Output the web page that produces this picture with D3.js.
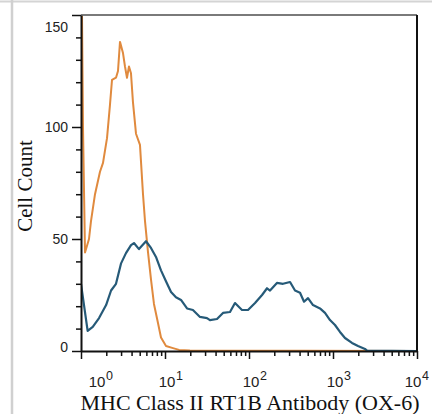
<!DOCTYPE html>
<html>
<head>
<meta charset="utf-8">
<script src="https://cdn.jsdelivr.net/npm/d3@7"></script>
<style>
  html, body { margin: 0; padding: 0; background: #fff; }
  svg { display: block; }
</style>
</head>
<body>
<svg id="chart" width="432" height="414"></svg>
<script>
// ===============================
// DATA
// ===============================

// isotype control (orange)
const isoIntensity = [1, 1.056, 1.116, 1.179, 1.245, 1.315, 1.468, 1.683, 1.828, 2.04, 2.214, 2.339,
    2.61, 2.757, 2.912, 3.162, 3.34, 3.528, 3.726, 3.936, 4.157, 4.517, 5.036, 5.472, 5.78,
    6.28, 6.81, 7.39, 8.25, 8.96, 10.28, 12.45, 14.7, 19.8, 10000];
const isoCount = [200, 100, 44, 47, 50, 58, 70, 80, 84, 95, 110, 121,
    122, 125, 138, 133, 127, 122, 127, 124, 111, 97, 92, 70, 58,
    44, 32, 21, 12.5, 6, 2.2, 1.3, 0.5, 0.2, 0];

// MHC Class II RT1B stained (blue)
const mhcIntensity = [1, 1.2, 1.38, 1.64, 1.99, 2.28, 2.61, 2.99, 3.43, 3.94, 4.27, 4.9, 5.94,
    6.81, 7.81, 8.96, 10.3, 11.8, 13.5, 15.5, 18.3, 21.5, 26.1, 31.6, 34.3, 41.6, 49,
    59.4, 68.1, 82.5, 97.3, 118, 143, 164, 178, 215, 254, 308, 353, 405, 452, 504,
    578, 700, 803, 921, 1056, 1211, 1389, 1683, 1985, 2404, 2540, 10000];
const mhcCount = [30, 9, 10.8, 14.7, 20.5, 27, 30, 39, 43.7, 47.3, 48.2, 45.5, 49,
    46, 42, 36, 31, 26.3, 24, 22.8, 19, 18.3, 15.2, 14.7, 13.8, 14.3, 17,
    17.4, 21.4, 18.3, 18.3, 21.4, 25, 28, 27, 30.4, 30, 30.8, 27, 26, 22, 23.6,
    20.5, 19, 17, 13.8, 11.6, 8.5, 5.8, 3.6, 2.2, 0.9, 0.2, 0];

const yMajorTicks = [0, 50, 100, 150];
const xDecades = [1, 10, 100, 1000, 10000];
const xExponents = ["0", "1", "2", "3", "4"];

// ===============================
// LAYOUT
// ===============================

const plotLeft = 81, plotTop = 15, plotRight = 417, plotBottom = 351;

const svg = d3.select("#chart");

// outer page frame (light grey)
svg.append("line").attr("x1", 0).attr("x2", 432).attr("y1", 1.5).attr("y2", 1.5)
    .attr("stroke", "#d4d4d4").attr("stroke-width", 2);
svg.append("line").attr("x1", 12).attr("x2", 12).attr("y1", 0).attr("y2", 414)
    .attr("stroke", "#d0d0d0").attr("stroke-width", 2.5);

const x = d3.scaleLog().domain([1, 10000]).range([plotLeft, plotRight]);
const y = d3.scaleLinear().domain([0, 150]).range([plotBottom, plotTop]);

// clip for curves
svg.append("clipPath").attr("id", "plotClip")
    .append("rect").attr("x", plotLeft).attr("y", plotTop)
    .attr("width", plotRight - plotLeft).attr("height", plotBottom - plotTop);

// ===============================
// CURVES
// ===============================

const line = d3.line()
    .x(d => x(d[0]))
    .y(d => y(d[1]));

const curves = svg.append("g").attr("clip-path", "url(#plotClip)");

curves.append("path")
    .datum(d3.zip(isoIntensity, isoCount))
    .attr("d", line)
    .attr("fill", "none")
    .attr("stroke", "#e08a3e")
    .attr("stroke-width", 2)
    .attr("stroke-linejoin", "round");

curves.append("path")
    .datum(d3.zip(mhcIntensity, mhcCount))
    .attr("d", line)
    .attr("fill", "none")
    .attr("stroke", "#265a78")
    .attr("stroke-width", 2.2)
    .attr("stroke-linejoin", "round");

// ===============================
// FRAME
// ===============================

svg.append("line").attr("x1", plotLeft).attr("x2", plotRight).attr("y1", plotTop).attr("y2", plotTop)
    .attr("stroke", "#7a7a7a").attr("stroke-width", 2);
svg.append("line").attr("x1", plotRight).attr("x2", plotRight).attr("y1", plotTop).attr("y2", plotBottom)
    .attr("stroke", "#111").attr("stroke-width", 2);

// ===============================
// Y AXIS
// ===============================

const yMinor = d3.range(0, 151, 10).filter(v => v % 50 !== 0);

const yAxis = svg.append("g").attr("transform", `translate(${plotLeft},0)`);

yAxis.call(d3.axisLeft(y).tickValues(yMajorTicks).tickSize(9).tickSizeOuter(0).tickFormat(""));
yAxis.append("g").call(d3.axisLeft(y).tickValues(yMinor).tickSize(5).tickFormat(""))
    .select(".domain").remove();
yAxis.selectAll(".domain").attr("stroke", "#111").attr("stroke-width", 2);
yAxis.selectAll(".tick line").attr("stroke", "#111").attr("stroke-width", 1.5);

const yLabelShift = { 0: -4, 150: 12 };
yMajorTicks.forEach(v => {
    svg.append("text")
        .attr("x", 68)
        .attr("y", y(v) + (yLabelShift[v] || 0))
        .attr("dy", "0.35em")
        .attr("text-anchor", "end")
        .attr("font-family", "Liberation Sans, Arial, sans-serif")
        .attr("font-size", 14)
        .attr("fill", "#222")
        .text(v);
});

// ===============================
// X AXIS
// ===============================

const xMinor = [];
[1, 10, 100, 1000].forEach(d => {
    for (let k = 2; k <= 9; k++) xMinor.push(d * k);
});

const xAxis = svg.append("g").attr("transform", `translate(0,${plotBottom})`);

xAxis.call(d3.axisBottom(x).tickValues(xDecades).tickSize(8).tickSizeOuter(0).tickFormat(""));
xAxis.append("g").call(d3.axisBottom(x).tickValues(xMinor).tickSize(5).tickFormat(""))
    .select(".domain").remove();
xAxis.selectAll(".domain").attr("stroke", "#111").attr("stroke-width", 2);
xAxis.selectAll(".tick line").attr("stroke", "#111").attr("stroke-width", 1.5);

xDecades.forEach((v, i) => {
    let cx = x(v) + 2;
    if (i === 0) cx = x(v) + 16;
    if (i === xDecades.length - 1) cx = x(v) - 4;
    svg.append("text")
        .attr("x", cx)
        .attr("y", 387)
        .attr("text-anchor", "middle")
        .attr("font-family", "Liberation Sans, Arial, sans-serif")
        .attr("font-size", 15)
        .attr("fill", "#222")
        .text("10");
    svg.append("text")
        .attr("x", cx + 9)
        .attr("y", 380)
        .attr("text-anchor", "start")
        .attr("font-family", "Liberation Sans, Arial, sans-serif")
        .attr("font-size", 12.5)
        .attr("fill", "#222")
        .text(xExponents[i]);
});

// ===============================
// AXIS TITLES
// ===============================

svg.append("text")
    .attr("x", 250)
    .attr("y", 410)
    .attr("text-anchor", "middle")
    .attr("font-family", "Liberation Serif, Times New Roman, serif")
    .attr("font-size", 22)
    .attr("fill", "#111")
    .text("MHC Class II RT1B Antibody (OX-6)");

svg.append("text")
    .attr("transform", "translate(32,186) rotate(-90)")
    .attr("text-anchor", "middle")
    .attr("font-family", "Liberation Serif, Times New Roman, serif")
    .attr("font-size", 21)
    .attr("fill", "#111")
    .text("Cell Count");
</script>
</body>
</html>
